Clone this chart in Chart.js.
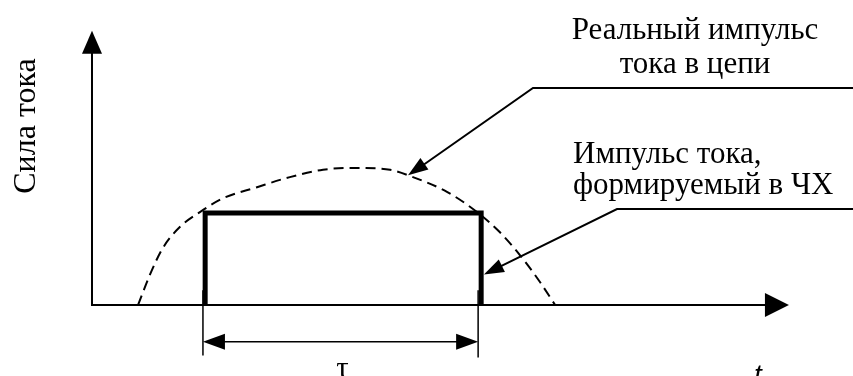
<!DOCTYPE html>
<html>
<head>
<meta charset="utf-8">
<script src="https://cdn.jsdelivr.net/npm/chart.js@4/dist/chart.umd.min.js"></script>
<style>
  html, body { margin: 0; padding: 0; background: #fff; }
  #wrap { width: 853px; height: 376px; position: relative; }
</style>
</head>
<body>
<div id="wrap"><canvas id="pulse-chart"></canvas></div>
<script>
// real current pulse in the circuit (dashed)
const realT = [1.67, 2.10, 2.57, 3.19, 3.91, 4.75, 5.98, 7.17, 8.37, 9.60, 10.80, 11.63, 12.86, 13.95, 14.78, 15.51, 16.23, 16.78];
const realI = [0, 0.33, 0.62, 0.85, 1.01, 1.16, 1.28, 1.39, 1.47, 1.49, 1.47, 1.39, 1.23, 1.01, 0.79, 0.54, 0.25, 0];

// rectangular pulse formed in the CH (thick)
const pulseT = [4.1, 4.1, 14.1, 14.1];
const pulseI = [0, 1, 1, 0];

// axis extents and pointer targets
const axisEnd = { t: 25.25, i: 2.98 };
const tauRange = [4.02, 13.99];
const realPointer = { t: 11.45, i: 1.41 };
const pulsePointer = { t: 14.2, i: 0.33 };

const yTitle = 'Сила тока';
const xTitle = 't';
const tauLabel = 'τ';
const realLabel = ['Реальный импульс', 'тока в цепи'];
const pulseLabel = ['Импульс тока,', 'формируемый в ЧХ'];

const serif = '"Liberation Serif", "Times New Roman", serif';

function arrowHead(ctx, x1, y1, x2, y2, len, half) {
    // filled triangle pointing from (x1,y1) to (x2,y2)
    let a = Math.atan2(y2 - y1, x2 - x1);
    ctx.beginPath();
    ctx.moveTo(x2, y2);
    ctx.lineTo(x2 - len * Math.cos(a) + half * Math.sin(a), y2 - len * Math.sin(a) - half * Math.cos(a));
    ctx.lineTo(x2 - len * Math.cos(a) - half * Math.sin(a), y2 - len * Math.sin(a) + half * Math.cos(a));
    ctx.closePath();
    ctx.fill();
}

const diagramPlugin = {
    id: 'diagram',
    beforeDatasetsDraw(chart) {
        const ctx = chart.ctx;
        const xs = chart.scales.x, ys = chart.scales.y;
        const ox = xs.getPixelForValue(0), oy = ys.getPixelForValue(0);
        const xe = xs.getPixelForValue(axisEnd.t), ye = ys.getPixelForValue(axisEnd.i);
        ctx.save();
        ctx.strokeStyle = '#000';
        ctx.fillStyle = '#000';
        ctx.lineWidth = 2;
        ctx.beginPath();
        ctx.moveTo(ox, ye + 10);
        ctx.lineTo(ox, oy);
        ctx.lineTo(xe - 10, oy);
        ctx.stroke();
        arrowHead(ctx, ox, oy, ox, ye, 23, 10);
        arrowHead(ctx, ox, oy, xe, oy, 24, 12);
        ctx.restore();
    },
    afterDatasetsDraw(chart) {
        const ctx = chart.ctx;
        const xs = chart.scales.x, ys = chart.scales.y;
        const px = v => xs.getPixelForValue(v);
        const py = v => ys.getPixelForValue(v);
        ctx.save();
        ctx.strokeStyle = '#000';
        ctx.fillStyle = '#000';

        // duration dimension
        const l = px(tauRange[0]), r = px(tauRange[1]);
        const dimY = py(-0.4);
        ctx.lineWidth = 1.5;
        ctx.beginPath();
        ctx.moveTo(l, py(0.16)); ctx.lineTo(l, py(-0.55));
        ctx.moveTo(r, py(0.16)); ctx.lineTo(r, py(-0.57));
        ctx.moveTo(l + 10, dimY); ctx.lineTo(r - 10, dimY);
        ctx.stroke();
        arrowHead(ctx, r, dimY, l, dimY, 22, 8);
        arrowHead(ctx, l, dimY, r, dimY, 22, 8);

        // leaders to labels
        ctx.lineWidth = 2;
        const W = chart.width;
        const tip1 = [px(realPointer.t), py(realPointer.i)];
        ctx.beginPath();
        ctx.moveTo(W, 88); ctx.lineTo(533, 88);
        ctx.lineTo(tip1[0] + 12, tip1[1] - 8);
        ctx.stroke();
        arrowHead(ctx, 533, 88, tip1[0], tip1[1], 20, 7);

        const tip2 = [px(pulsePointer.t), py(pulsePointer.i)];
        ctx.beginPath();
        ctx.moveTo(W, 209); ctx.lineTo(617, 209);
        ctx.lineTo(tip2[0] + 12, tip2[1] - 6);
        ctx.stroke();
        arrowHead(ctx, 617, 209, tip2[0], tip2[1], 20, 7);

        // texts
        ctx.font = '31px ' + serif;
        ctx.textBaseline = 'alphabetic';
        ctx.textAlign = 'center';
        ctx.fillText(realLabel[0], 695, 39);
        ctx.fillText(realLabel[1], 695, 73);
        ctx.textAlign = 'left';
        ctx.fillText(pulseLabel[0], 573, 163);
        ctx.fillText(pulseLabel[1], 573, 194);

        ctx.textAlign = 'center';
        ctx.fillText(tauLabel, (l + r) / 2 + 2, 378);
        ctx.font = 'italic 28px "Liberation Sans", Arial, sans-serif';
        ctx.fillText(xTitle, 758, 384);

        ctx.font = '32px ' + serif;
        ctx.translate(35, 126);
        ctx.rotate(-Math.PI / 2);
        ctx.fillText(yTitle, 0, 0);
        ctx.restore();
    }
};

new Chart(document.getElementById('pulse-chart').getContext('2d'), {
    type: 'line',
    data: {
        datasets: [{
            label: 'real',
            data: realT.map((t, i) => ({ x: t, y: realI[i] })),
            borderColor: '#000',
            borderWidth: 2,
            borderDash: [10, 6],
            pointRadius: 0,
            cubicInterpolationMode: 'monotone',
            fill: false
        }, {
            label: 'pulse',
            data: pulseT.map((t, i) => ({ x: t, y: pulseI[i] })),
            borderColor: '#000',
            borderWidth: 5,
            borderJoinStyle: 'miter',
            pointRadius: 0,
            tension: 0,
            fill: false
        }]
    },
    options: {
        responsive: true,
        maintainAspectRatio: false,
        animation: false,
        layout: { padding: 0 },
        scales: {
            x: { type: 'linear', display: false, min: -3.333, max: 27.572 },
            y: { type: 'linear', display: false, min: -0.772, max: 3.315 }
        },
        plugins: {
            legend: { display: false },
            tooltip: { enabled: false }
        }
    },
    plugins: [diagramPlugin]
});
</script>
</body>
</html>
